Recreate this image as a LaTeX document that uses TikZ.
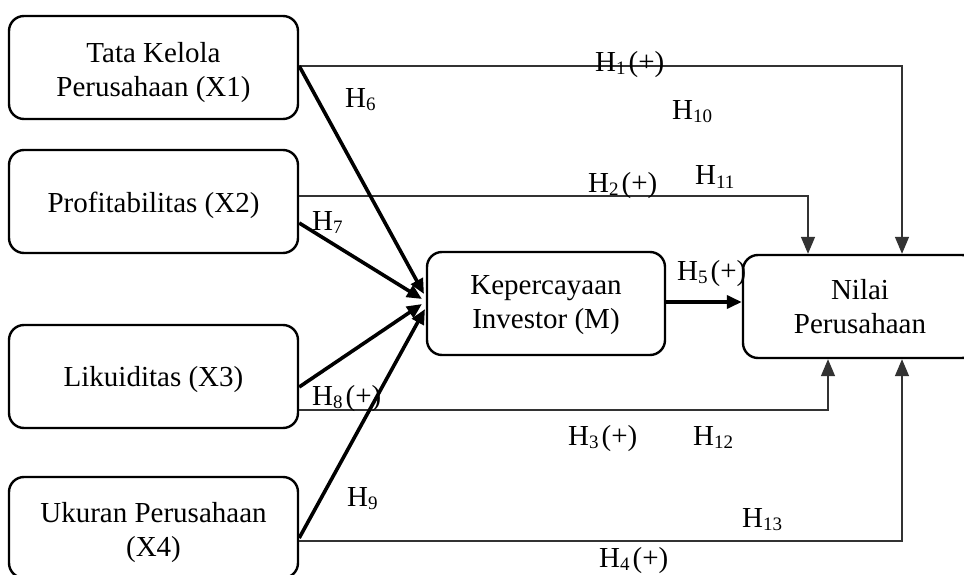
\documentclass[tikz,border=0pt]{standalone}
\usepackage{fontspec}
\setmainfont{Liberation Serif}
\usetikzlibrary{arrows.meta}
\newcommand\hsub[1]{\raisebox{-3pt}{\fontsize{19}{20}\selectfont #1}}
\tikzset{
  box/.style={draw=black, line width=2.4pt, rounded corners=15pt, inner sep=0pt},
  boxtext/.style={align=center, inner sep=0pt, font=\fontsize{29}{34}\selectfont},
  thinline/.style={draw=black!80, line width=1.5pt},
  thinarrow/.style={thinline, -{Triangle[length=17pt,width=14pt]}},
  thickarrow/.style={draw=black, line width=3.6pt, -{Triangle[length=15pt,width=13pt]}},
  lbl/.style={anchor=base west, inner sep=0pt, font=\fontsize{29}{34}\selectfont},
}
\begin{document}
\begin{tikzpicture}[x=1pt,y=-1pt]
\useasboundingbox (0,0) rectangle (964,575);
% boxes
\node[box, minimum width=289pt, minimum height=103pt] (X1) at (153.5,67.5) {};
\node[box, minimum width=289pt, minimum height=103pt] (X2) at (153.5,201.5) {};
\node[box, minimum width=289pt, minimum height=103pt] (X3) at (153.5,376.5) {};
\node[box, minimum width=289pt, minimum height=101pt] (X4) at (153.5,527.5) {};
\node[box, minimum width=238pt, minimum height=103pt] (M) at (546,303.5) {};
\node[box, minimum width=234pt, minimum height=103pt] (NP) at (860,306.5) {};
% box texts
\node[boxtext] (X1t) at ([yshift=-5pt]X1.center) {Tata Kelola\\Perusahaan (X1)};
\node[boxtext] (X2t) at ([yshift=-4pt]X2.center) {Profitabilitas (X2)};
\node[boxtext] (X3t) at ([yshift=-3pt]X3.center) {Likuiditas (X3)};
\node[boxtext] (X4t) at ([yshift=-5.5pt]X4.center) {Ukuran Perusahaan\\(X4)};
\node[boxtext] (Mt) at ([yshift=-2pt]M.center) {Kepercayaan\\Investor (M)};
\node[boxtext] (NPt) at (NP.center) {Nilai\\Perusahaan};
% named coordinates on box borders
\coordinate (x1o) at (X1.east |- 0,66);
\coordinate (x2o) at (X2.east |- 0,196);
\coordinate (x3o) at (X3.east |- 0,410);
\coordinate (x4o) at (X4.east |- 0,541);
\coordinate (x1t) at (X1.east |- 0,66);
\coordinate (x2t) at (X2.east |- 0,223);
\coordinate (x3t) at (X3.east |- 0,387);
\coordinate (x4t) at (X4.east |- 0,538);
\coordinate (m1) at (424,294);
\coordinate (m2) at (422,299);
\coordinate (m3) at (422,304);
\coordinate (m4) at (425,309);
\coordinate (n1) at (NP.north -| 902,0);
\coordinate (n2) at (NP.north -| 808,0);
\coordinate (n3) at (NP.south -| 828,0);
\coordinate (n4) at (NP.south -| 902,0);
% thin direct paths
\draw[thinarrow] (x1o) -| (n1);
\draw[thinarrow] (x2o) -| (n2);
\draw[thinarrow] (x3o) -| (n3);
\draw[thinarrow] (x4o) -| (n4);
% thick mediated paths
\draw[thickarrow] (x1t) -- (m1);
\draw[thickarrow] (x2t) -- (m2);
\draw[thickarrow] (x3t) -- (m3);
\draw[thickarrow] (x4t) -- (m4);
\draw[thickarrow] (M.east |- 0,302) -- (NP.west |- 0,302);
% labels
\node[lbl] (h1) at (595,72) {H\hsub{1}\hspace{3pt}(+)};
\node[lbl] (h6) at (345,108) {H\hsub{6}};
\node[lbl] (h10) at (672,120) {H\hsub{10}};
\node[lbl] (h2) at (588,193) {H\hsub{2}\hspace{3pt}(+)};
\node[lbl] (h11) at (695,185) {H\hsub{11}};
\node[lbl] (h7) at (312,230) {H\hsub{7}};
\node[lbl] (h5) at (677,280) {H\hsub{5}\hspace{3pt}(+)};
\node[lbl] (h8) at (312,405) {H\hsub{8}\hspace{3pt}(+)};
\node[lbl] (h3) at (568,445) {H\hsub{3}\hspace{3pt}(+)};
\node[lbl] (h12) at (693,445) {H\hsub{12}};
\node[lbl] (h9) at (347,506) {H\hsub{9}};
\node[lbl] (h13) at (742,527) {H\hsub{13}};
\node[lbl] (h4) at (599,567) {H\hsub{4}\hspace{3pt}(+)};
\end{tikzpicture}
\end{document}
